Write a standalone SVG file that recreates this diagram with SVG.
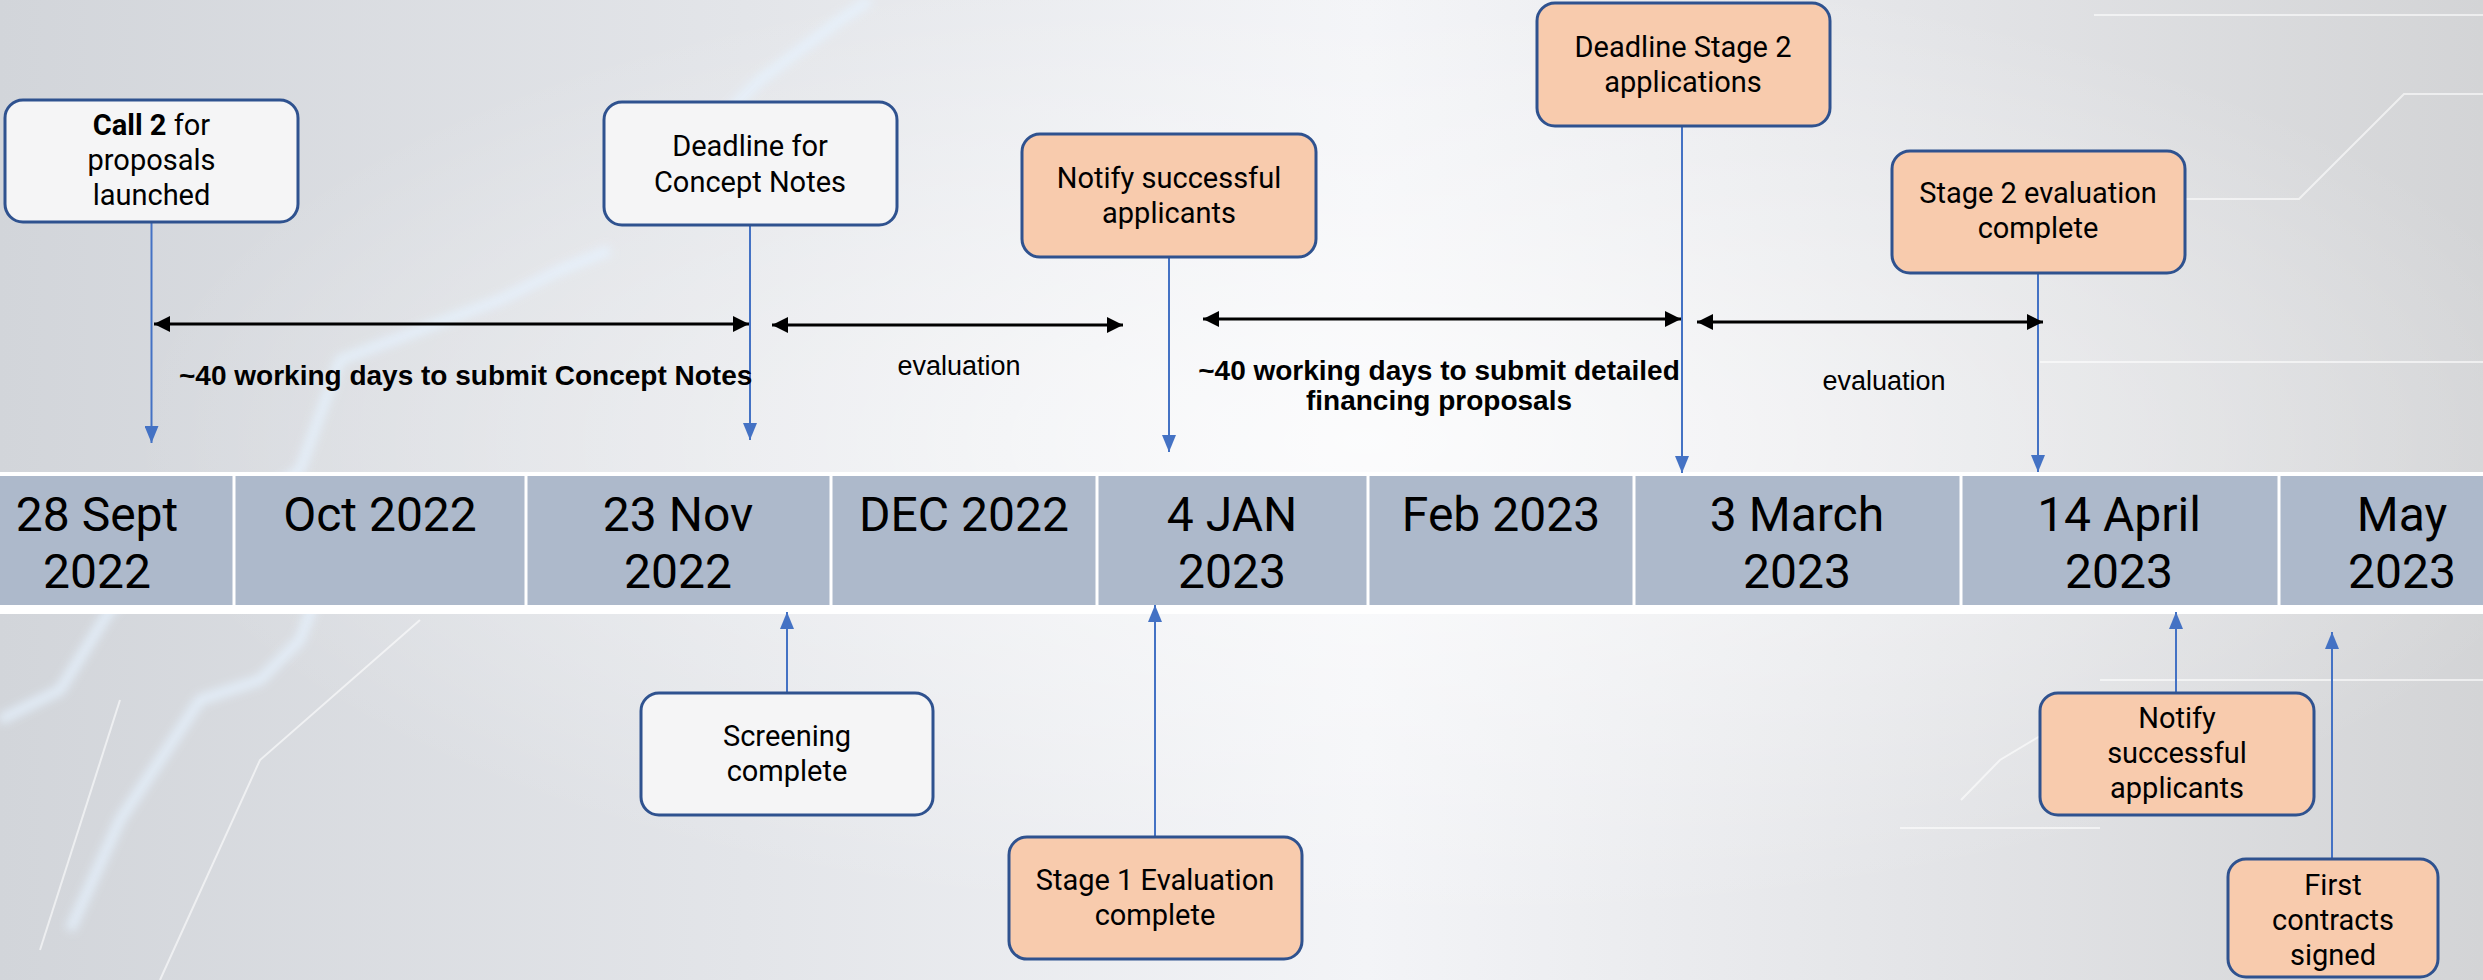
<svg xmlns="http://www.w3.org/2000/svg" width="2483" height="980" viewBox="0 0 2483 980">
<defs>
<linearGradient id="bg" x1="0" y1="0" x2="1" y2="0">
<stop offset="0" stop-color="#d2d5da"/>
<stop offset="0.3" stop-color="#e3e5e9"/>
<stop offset="0.55" stop-color="#f3f4f7"/>
<stop offset="0.78" stop-color="#e3e4e7"/>
<stop offset="1" stop-color="#d3d4d6"/>
</linearGradient>
<radialGradient id="glow" cx="0.55" cy="0.45" r="0.5">
<stop offset="0" stop-color="#ffffff" stop-opacity="0.7"/>
<stop offset="1" stop-color="#ffffff" stop-opacity="0"/>
</radialGradient>
<filter id="blur" x="-10%" y="-10%" width="120%" height="120%"><feGaussianBlur stdDeviation="5"/></filter>
<marker id="blueArrow" markerUnits="userSpaceOnUse" markerWidth="18" markerHeight="14" refX="17" refY="7" orient="auto">
<path d="M0,0 L17,7 L0,14 z" fill="#4472c4"/>
</marker>
<marker id="blackArrow" markerUnits="userSpaceOnUse" markerWidth="16" markerHeight="16" refX="16" refY="8" orient="auto-start-reverse">
<path d="M0,0 L16,8 L0,16 z" fill="#000"/>
</marker>
<style>
.box{stroke:#2f528f;stroke-width:3}
.light{fill:#f5f5f6}
.orange{fill:#f8cbad}
.bt{font-family:Roboto,"Liberation Sans",sans-serif;font-size:29px;fill:#000;text-anchor:middle}
.band{font-family:Roboto,"Liberation Sans",sans-serif;font-size:48px;fill:#000;text-anchor:middle}
.ann{font-family:"Liberation Sans",Arial,sans-serif;font-size:27px;fill:#000;text-anchor:middle}
.annb{font-family:"Liberation Sans",Arial,sans-serif;font-size:28px;font-weight:bold;fill:#000}
.blue{stroke:#4472c4;stroke-width:2;fill:none;marker-end:url(#blueArrow)}
.blk{stroke:#000;stroke-width:3;fill:none;marker-start:url(#blackArrow);marker-end:url(#blackArrow)}
.deco{stroke:#ffffff;fill:none}
</style>
</defs>

<g id="background">
<rect x="0" y="0" width="2483" height="980" fill="url(#bg)"/>
<rect x="0" y="0" width="2483" height="980" fill="url(#glow)"/>
<g filter="url(#blur)" opacity="0.8" stroke="#e6f3ff" fill="none" stroke-width="10">
<path d="M0,720 L60,690 L110,610 L170,560 L230,520 L300,470 L340,360 L420,330 L500,300 L560,270 L610,250"/>
<path d="M70,930 L120,820 L160,760 L200,700 L260,680 L300,640 L330,560"/>
<path d="M720,120 L760,80 L800,50 L840,20 L870,0"/>
</g>
<g class="deco" opacity="0.6" stroke-width="2">
<path d="M2185,199 L2299,199 L2404,94 L2483,94"/>
<path d="M2040,362 L2483,362"/>
<path d="M2094,15 L2483,15"/>
<path d="M2100,680 L2483,680"/>
<path d="M1961,800 L2000,760 L2100,700"/>
<path d="M1900,828 L2100,828"/>
<path d="M160,980 L260,760 L420,620"/>
<path d="M40,950 L120,700"/>
</g>
</g>

<g id="timeline-band">
<rect x="0" y="472" width="2483" height="142" fill="#ffffff"/>
<rect x="0" y="476" width="2483" height="129" fill="#adb9cb"/>
<g stroke="#ffffff" stroke-width="3">
<line x1="234" y1="476" x2="234" y2="605"/>
<line x1="526" y1="476" x2="526" y2="605"/>
<line x1="831" y1="476" x2="831" y2="605"/>
<line x1="1097" y1="476" x2="1097" y2="605"/>
<line x1="1368" y1="476" x2="1368" y2="605"/>
<line x1="1634" y1="476" x2="1634" y2="605"/>
<line x1="1961" y1="476" x2="1961" y2="605"/>
<line x1="2279" y1="476" x2="2279" y2="605"/>
</g>
<text class="band" x="97" y="531">28 Sept</text>
<text class="band" x="97" y="588">2022</text>
<text class="band" x="380" y="531">Oct 2022</text>
<text class="band" x="678" y="531">23 Nov</text>
<text class="band" x="678" y="588">2022</text>
<text class="band" x="964" y="531">DEC 2022</text>
<text class="band" x="1232" y="531">4 JAN</text>
<text class="band" x="1232" y="588">2023</text>
<text class="band" x="1501" y="531">Feb 2023</text>
<text class="band" x="1797" y="531">3 March</text>
<text class="band" x="1797" y="588">2023</text>
<text class="band" x="2119" y="531">14 April</text>
<text class="band" x="2119" y="588">2023</text>
<text class="band" x="2402" y="531">May</text>
<text class="band" x="2402" y="588">2023</text>
</g>

<g id="connectors">
<line class="blue" x1="151.5" y1="222" x2="151.5" y2="443"/>
<line class="blue" x1="750" y1="225" x2="750" y2="440"/>
<line class="blue" x1="1169" y1="257" x2="1169" y2="452"/>
<line class="blue" x1="1682" y1="126" x2="1682" y2="473"/>
<line class="blue" x1="2038" y1="273" x2="2038" y2="472"/>
<line class="blue" x1="787" y1="693" x2="787" y2="612"/>
<line class="blue" x1="1155" y1="837" x2="1155" y2="605"/>
<line class="blue" x1="2176" y1="693" x2="2176" y2="612"/>
<line class="blue" x1="2332" y1="859" x2="2332" y2="632"/>
<line class="blk" x1="154" y1="324" x2="749" y2="324"/>
<line class="blk" x1="772" y1="325" x2="1123" y2="325"/>
<line class="blk" x1="1203" y1="319" x2="1681" y2="319"/>
<line class="blk" x1="1697" y1="322" x2="2043" y2="322"/>
</g>

<g id="span-labels">
<text class="annb" x="179" y="385">~40 working days to submit Concept Notes</text>
<text class="ann" x="959" y="375">evaluation</text>
<text class="annb" x="1439" y="380" text-anchor="middle">~40 working days to submit detailed</text>
<text class="annb" x="1439" y="410" text-anchor="middle">financing proposals</text>
<text class="ann" x="1884" y="390">evaluation</text>
</g>

<g id="node-call2">
<rect class="box light" x="5" y="100" width="293" height="122" rx="18"/>
<text class="bt" x="151.5" y="135"><tspan font-weight="bold">Call 2</tspan> for</text>
<text class="bt" x="151.5" y="170">proposals</text>
<text class="bt" x="151.5" y="205">launched</text>
</g>
<g id="node-deadline-cn">
<rect class="box light" x="604" y="102" width="293" height="123" rx="18"/>
<text class="bt" x="750" y="156">Deadline for</text>
<text class="bt" x="750" y="192">Concept Notes</text>
</g>
<g id="node-notify-1">
<rect class="box orange" x="1022" y="134" width="294" height="123" rx="18"/>
<text class="bt" x="1169" y="188">Notify successful</text>
<text class="bt" x="1169" y="223">applicants</text>
</g>
<g id="node-deadline-s2">
<rect class="box orange" x="1537" y="3" width="293" height="123" rx="18"/>
<text class="bt" x="1683" y="57">Deadline Stage 2</text>
<text class="bt" x="1683" y="92">applications</text>
</g>
<g id="node-s2-eval">
<rect class="box orange" x="1892" y="151" width="293" height="122" rx="18"/>
<text class="bt" x="2038" y="203">Stage 2 evaluation</text>
<text class="bt" x="2038" y="238">complete</text>
</g>
<g id="node-screening">
<rect class="box light" x="641" y="693" width="292" height="122" rx="18"/>
<text class="bt" x="787" y="746">Screening</text>
<text class="bt" x="787" y="781">complete</text>
</g>
<g id="node-s1-eval">
<rect class="box orange" x="1009" y="837" width="293" height="122" rx="18"/>
<text class="bt" x="1155" y="890">Stage 1 Evaluation</text>
<text class="bt" x="1155" y="925">complete</text>
</g>
<g id="node-notify-2">
<rect class="box orange" x="2040" y="693" width="274" height="122" rx="18"/>
<text class="bt" x="2177" y="728">Notify</text>
<text class="bt" x="2177" y="763">successful</text>
<text class="bt" x="2177" y="798">applicants</text>
</g>
<g id="node-contracts">
<rect class="box orange" x="2228" y="859" width="210" height="118" rx="18"/>
<text class="bt" x="2333" y="895">First</text>
<text class="bt" x="2333" y="930">contracts</text>
<text class="bt" x="2333" y="965">signed</text>
</g>
</svg>
